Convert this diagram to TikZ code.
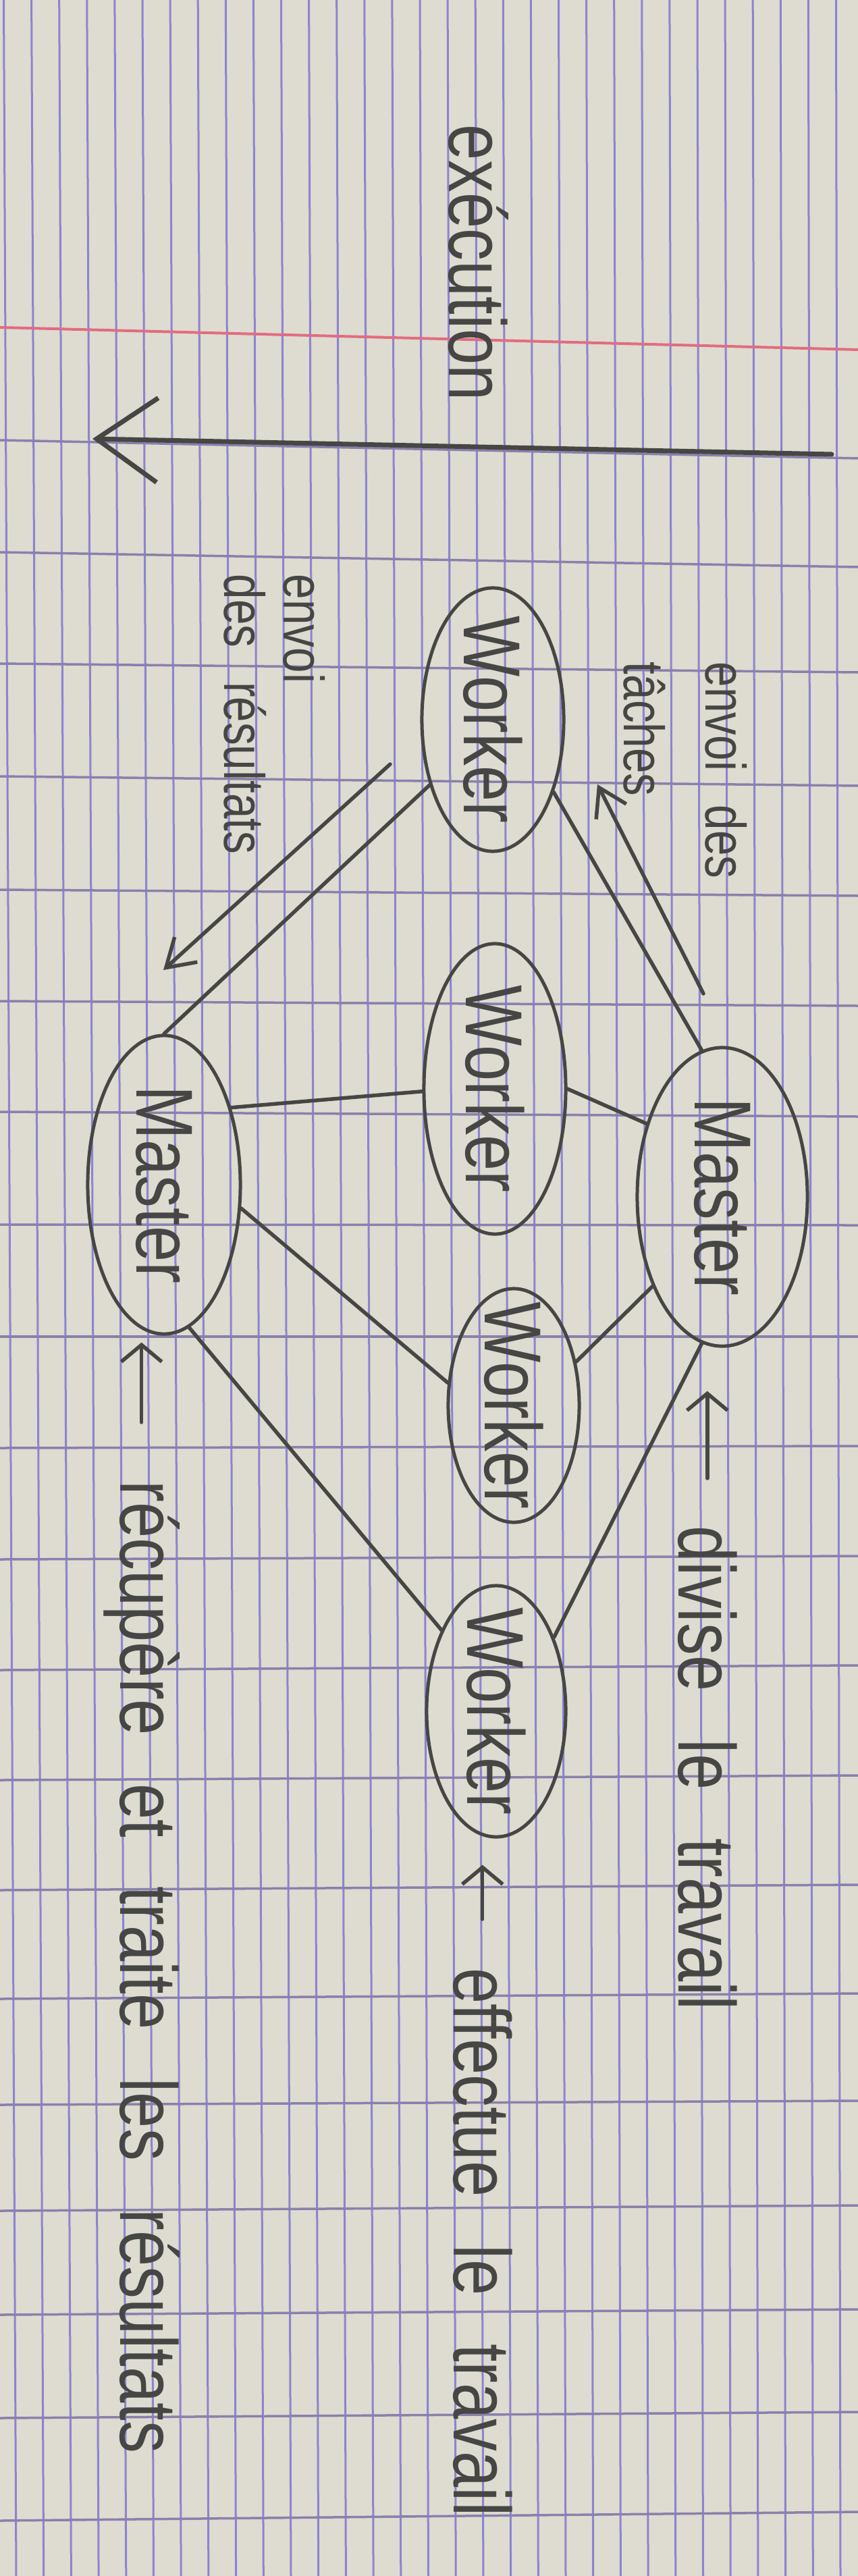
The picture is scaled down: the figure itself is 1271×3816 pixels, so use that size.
\documentclass[tikz,border=0pt]{standalone}
\usepackage{fontspec}
\usepackage{tikz}
\usetikzlibrary{shapes.geometric,arrows.meta}
\newfontfamily\handfont[FakeStretch=0.8]{Liberation Sans}
\newcommand\handbig{\handfont\fontsize{34}{40}\selectfont\spaceskip=0.6em\relax}
\newcommand\handsmall{\handfont\fontsize{24}{25}\selectfont\spaceskip=0.6em\relax}
\definecolor{paper}{RGB}{222,219,208}
\definecolor{ink}{RGB}{70,70,68}
\definecolor{gridblue}{RGB}{140,132,208}
\definecolor{gridgrey}{RGB}{138,128,172}
\definecolor{margin}{RGB}{226,108,128}
\tikzstyle{master state}=[
        draw = ink,
        line width = 0.5mm,
        ellipse,
        rotate = -90,
        inner sep = -4mm,
        text = ink,
        font = \handbig
    ]
\tikzstyle{worker state}=[
    draw = ink,
    line width = 0.5mm,
    ellipse,
    rotate = -90,
    inner sep = -4mm,
    text = ink,
    font = \handbig
]
\tikzstyle{note}=[
    rotate = -90,
    inner sep = 0pt,
    text = ink
]

\begin{document}
\begin{tikzpicture}[x=0.01cm, y=-0.01cm,
    link/.style = {draw=ink, line width=0.55mm, line cap=round},
    flow/.style = {link, -{Straight Barb[length=4mm, width=5mm]}},
    pointer/.style = {link, -{Straight Barb[length=2.5mm, width=6mm]}}]
        \useasboundingbox (0,0) rectangle (1271,3816);
        \fill[paper] (0,0) rectangle (1271,3816);
        \foreach \k in {0,...,30}
            \draw[gridblue, line width=0.3mm] ({5.5+41.1*\k},0) -- ({24+40.7*\k},3816);
        \foreach \l/\r in {652/679, 818/840, 983/996, 1150/1164, 1318/1327, 1483/1490,
                           1647/1654, 1814/1815, 1980/1980, 2145/2142, 2310/2305, 2474/2467,
                           2637/2630, 2800/2792, 2961/2953, 3118/3112, 3275/3267, 3429/3421,
                           3582/3573, 3734/3721}
            \draw[gridgrey, line width=0.35mm] (0,\l) -- (1271,\r);
        \draw[margin, line width=0.4mm] (0,485) -- (1271,518);

        \node[master state, minimum width=4.42cm, minimum height=2.52cm] (m1) at (1070,1773) {Master};
        \node[master state, minimum width=4.42cm, minimum height=2.26cm] (m2) at (243,1755) {Master};
        \node[worker state, minimum width=3.9cm, minimum height=2.1cm] (w1) at (730,1066) {Worker};
        \node[worker state, minimum width=4.3cm, minimum height=2.1cm] (w2) at (733,1613) {Worker};
        \node[worker state, minimum width=3.46cm, minimum height=1.94cm] (w3) at (761,2082) {Worker};
        \node[worker state, minimum width=3.72cm, minimum height=2.06cm] (w4) at (735,2535) {Worker};

        \node[note, font=\handbig, anchor=base west] (exec) at (665,184) {exécution};
        \node[note, font=\handsmall, align=left, anchor=north west] (tasks) at (1107,980) {envoi des\\[3.3mm]tâches};
        \node[note, font=\handsmall, align=left, anchor=north west] (results) at (482,850) {envoi\\des résultats};
        \node[note, font=\handbig, anchor=base west] (divide) at (1005,2260) {divise le travail};
        \node[note, font=\handbig, anchor=base west] (compute) at (672,2915) {effectue le travail};
        \node[note, font=\handbig, anchor=base west] (collect) at (178,2193) {récupère et traite les résultats};

        \coordinate (clockstart) at (1232,673);
        \coordinate (clockend) at (137,650);
        \draw[link, line width=0.7mm, -{Straight Barb[length=9mm, width=12.5mm]}] (clockstart) -- (clockend);

        \draw[link] (w1.40) -- (m1.-172);
        \draw[link] (w1.-44) -- (m2.180);
        \draw[link] (w2.-88) -- (m2.139);
        \draw[link] (w2.90) -- (m1.-134);
        \draw[link] (w3.-109) -- (m2.73);
        \draw[link] (w3.125) -- (m1.-38);
        \draw[link] (w4.-146) -- (m2.10);
        \draw[link] (w4.142) -- (m1.-8);

        \coordinate (sendfrom) at (1042,1472);
        \coordinate (sendto) at (885,1162);
        \draw[flow] (sendfrom) -- (sendto);
        \coordinate (backfrom) at (578,1132);
        \coordinate (backto) at (242,1437);
        \draw[flow] (backfrom) -- (backto);

        \draw[pointer, shorten <=7mm, shorten >=6.4mm] (divide.west) -- (divide.west |- m1.0);
        \draw[pointer, shorten <=7.2mm, shorten >=3.9mm] (compute.west) -- (compute.west |- w4.0);
        \draw[pointer, shorten <=8.6mm, shorten >=1mm] (collect.west) -- (collect.west |- m2.0);

    \end{tikzpicture}
\end{document}
